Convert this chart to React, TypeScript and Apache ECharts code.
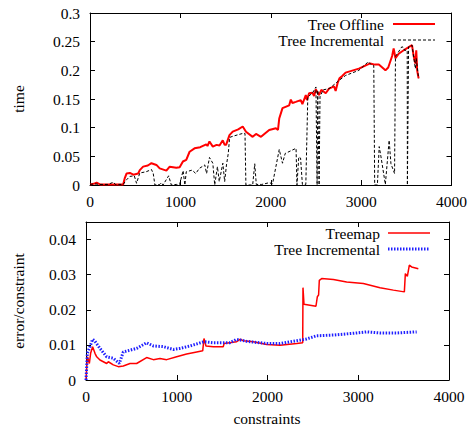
import React, { useEffect, useRef } from "react";
import * as echarts from "echarts";

// Top panel: time
const offlineX = [0, 40, 73, 110, 200, 367, 385, 404, 441, 480, 533, 551, 588, 640, 680, 735, 771, 845, 882, 955, 992, 1028, 1065, 1102, 1157, 1220, 1286, 1300, 1322, 1359, 1400, 1433, 1469, 1490, 1506, 1543, 1579, 1640, 1690, 1726, 1800, 1837, 1892, 1983, 2057, 2080, 2094, 2130, 2204, 2222, 2240, 2277, 2332, 2350, 2388, 2400, 2424, 2461, 2480, 2498, 2534, 2560, 2608, 2645, 2700, 2718, 2740, 2760, 2791, 2828, 2975, 3100, 3150, 3196, 3269, 3300, 3343, 3360, 3380, 3416, 3471, 3500, 3563, 3580, 3600, 3610, 3620, 3636];
const offlineY = [0.001, 0.002, 0.004, 0.001, 0.001, 0.001, 0.012, 0.02, 0.021, 0.018, 0.02, 0.026, 0.032, 0.034, 0.038, 0.035, 0.029, 0.025, 0.032, 0.03, 0.031, 0.041, 0.044, 0.058, 0.064, 0.066, 0.071, 0.068, 0.076, 0.067, 0.07, 0.069, 0.078, 0.07, 0.07, 0.087, 0.093, 0.097, 0.102, 0.093, 0.084, 0.089, 0.084, 0.096, 0.099, 0.096, 0.116, 0.134, 0.139, 0.149, 0.143, 0.145, 0.148, 0.141, 0.157, 0.148, 0.16, 0.161, 0.155, 0.167, 0.157, 0.166, 0.16, 0.168, 0.172, 0.164, 0.178, 0.186, 0.19, 0.196, 0.203, 0.212, 0.21, 0.21, 0.2, 0.205, 0.225, 0.238, 0.221, 0.229, 0.235, 0.238, 0.244, 0.226, 0.212, 0.235, 0.2, 0.186];

const incX = [0, 50, 100, 200, 260, 280, 367, 404, 441, 490, 515, 551, 620, 680, 700, 718, 771, 790, 808, 870, 900, 955, 992, 1030, 1050, 1065, 1130, 1170, 1210, 1270, 1290, 1322, 1359, 1380, 1410, 1430, 1470, 1490, 1510, 1530, 1545, 1580, 1690, 1715, 1725, 1800, 1823, 1840, 1900, 1983, 2020, 2057, 2094, 2130, 2160, 2280, 2290, 2310, 2330, 2350, 2388, 2410, 2461, 2500, 2513, 2520, 2535, 2545, 2580, 2645, 2700, 2760, 2828, 2975, 3080, 3110, 3140, 3150, 3180, 3200, 3220, 3268, 3310, 3330, 3370, 3380, 3450, 3470, 3480, 3510, 3512, 3525, 3563, 3600, 3610, 3636];
const incY = [0.001, 0.002, 0.001, 0.001, 0.005, 0.001, 0.001, 0.009, 0.015, 0.016, 0.003, 0.021, 0.023, 0.027, 0.02, 0, 0.001, 0.004, 0, 0.016, 0, 0.001, 0.001, 0.025, 0, 0.023, 0.026, 0.02, 0.029, 0.035, 0.02, 0.048, 0.038, 0, 0.032, 0.006, 0.038, 0.006, 0.035, 0.055, 0.083, 0.085, 0.09, 0.09, 0, 0, 0.037, 0.001, 0.001, 0.004, 0.002, 0.032, 0.062, 0.038, 0.055, 0.064, 0, 0.049, 0.047, 0.001, 0.001, 0.154, 0.16, 0.171, 0, 0.165, 0, 0.154, 0.166, 0.168, 0.175, 0.183, 0.191, 0.2, 0.215, 0.21, 0.208, 0, 0, 0.067, 0.049, 0.001, 0.078, 0.037, 0.02, 0.224, 0.241, 0.24, 0.235, 0.235, 0, 0.241, 0.244, 0.203, 0.221, 0.186];

// Bottom panel: error/constraint
const treemapX = [0, 15, 37, 51, 73, 99, 118, 154, 228, 246, 301, 356, 411, 485, 558, 668, 742, 815, 889, 999, 1109, 1220, 1286, 1300, 1322, 1403, 1513, 1521, 1660, 1697, 1734, 1844, 1991, 2138, 2322, 2388, 2391, 2402, 2534, 2549, 2563, 2571, 2597, 2726, 2872, 3056, 3240, 3387, 3508, 3519, 3541, 3563, 3588, 3662];
const treemapY = [0, 0.0066, 0.0047, 0.0076, 0.0095, 0.0076, 0.0066, 0.0057, 0.0047, 0.0052, 0.0043, 0.0038, 0.004, 0.0047, 0.0047, 0.0064, 0.0058, 0.0061, 0.0058, 0.0066, 0.0074, 0.008, 0.0083, 0.0118, 0.0097, 0.0095, 0.0095, 0.0104, 0.0109, 0.0116, 0.0112, 0.0109, 0.0101, 0.0099, 0.0104, 0.0106, 0.0263, 0.0216, 0.021, 0.0237, 0.0242, 0.0284, 0.0289, 0.0286, 0.0279, 0.0275, 0.0263, 0.0256, 0.0251, 0.0303, 0.0295, 0.0327, 0.0322, 0.0317];

const incErrX = [0, 15, 44, 73, 99, 154, 228, 301, 367, 411, 485, 558, 668, 742, 852, 962, 1036, 1146, 1300, 1403, 1587, 1660, 1770, 1991, 2138, 2322, 2432, 2542, 2726, 2946, 3093, 3240, 3424, 3644];
const incErrY = [0, 0.0076, 0.0095, 0.0116, 0.011, 0.009, 0.0066, 0.0062, 0.0047, 0.008, 0.0085, 0.009, 0.0106, 0.0097, 0.0095, 0.0087, 0.009, 0.0097, 0.0109, 0.0106, 0.0106, 0.0116, 0.011, 0.0104, 0.0104, 0.0112, 0.0117, 0.0126, 0.0128, 0.0133, 0.0137, 0.0134, 0.0134, 0.0137];

const xTickInterval = 1000;

const zip = (xs: number[], ys: number[]) => xs.map((x, i) => [x, ys[i]]);

const FONT = "Liberation Serif";
const FS = 15.5;

export default function App() {
  const ref = useRef<HTMLDivElement>(null);
  useEffect(() => {
    if (!ref.current) return;
    const chart = echarts.init(ref.current, null, { renderer: "svg" });
    const lbl = { fontFamily: FONT, fontSize: FS, color: "#000" };
    const font = `${FS}px "${FONT}"`;
    const axLine = { show: true, lineStyle: { color: "#000", width: 1 } };
    const tick = { show: true, inside: true, length: 5, lineStyle: { color: "#000" } };
    const mkX = (grid: number, position: string, labels: boolean) => ({
      type: "value",
      gridIndex: grid,
      position,
      min: 0,
      max: 4000,
      interval: xTickInterval,
      axisLine: { ...axLine, onZero: false },
      axisTick: tick,
      axisLabel: labels ? { ...lbl, margin: 8, formatter: (v: number) => String(v) } : { show: false },
      splitLine: { show: false },
    });
    const mkY = (grid: number, position: string, labels: boolean, max: number, interval: number) => ({
      type: "value",
      gridIndex: grid,
      position,
      min: 0,
      max,
      interval,
      axisLine: { ...axLine, onZero: false },
      axisTick: tick,
      axisLabel: labels
        ? { ...lbl, margin: 10, showMaxLabel: max !== 0.045, formatter: (v: number) => String(Math.round(v * 1000) / 1000) }
        : { show: false },
      splitLine: { show: false },
    });
    chart.setOption({
      animation: false,
      backgroundColor: "#fff",
      grid: [
        { left: 90, right: 17, top: 13, height: 172 },
        { left: 86, right: 21, top: 222, height: 158 },
      ],
      xAxis: [mkX(0, "bottom", true), mkX(1, "bottom", true), mkX(0, "top", false), mkX(1, "top", false)],
      yAxis: [
        mkY(0, "left", true, 0.3, 0.05),
        mkY(1, "left", true, 0.045, 0.01),
        mkY(0, "right", false, 0.3, 0.05),
        mkY(1, "right", false, 0.045, 0.01),
      ],
      series: [
        {
          type: "line",
          name: "Tree Incremental",
          xAxisIndex: 0,
          yAxisIndex: 0,
          data: zip(incX, incY),
          showSymbol: false,
          lineStyle: { color: "#000", width: 1, type: [3, 2] },
          z: 3,
        },
        {
          type: "line",
          name: "Tree Offline",
          xAxisIndex: 0,
          yAxisIndex: 0,
          data: zip(offlineX, offlineY),
          showSymbol: false,
          lineStyle: { color: "#ff0000", width: 2 },
          z: 2,
        },
        {
          type: "line",
          name: "Treemap",
          xAxisIndex: 1,
          yAxisIndex: 1,
          data: zip(treemapX, treemapY),
          showSymbol: false,
          lineStyle: { color: "#ff0000", width: 1.5 },
          z: 2,
        },
        {
          type: "line",
          name: "Tree Incremental (error)",
          xAxisIndex: 1,
          yAxisIndex: 1,
          data: zip(incErrX, incErrY),
          showSymbol: false,
          lineStyle: { color: "#2020ff", width: 3, type: [1.5, 1.5] },
          z: 3,
        },
      ],
      graphic: [
        { type: "text", x: 18, y: 99, rotation: Math.PI / 2, style: { text: "time", fill: "#000", font, textAlign: "center", textVerticalAlign: "middle" } },
        { type: "text", x: 18, y: 301, rotation: Math.PI / 2, style: { text: "error/constraint", fill: "#000", font, textAlign: "center", textVerticalAlign: "middle" } },
        { type: "text", x: 267, y: 418, style: { text: "constraints", fill: "#000", font, textAlign: "center", textVerticalAlign: "middle" } },
        { type: "text", x: 384, y: 24, style: { text: "Tree Offline", fill: "#000", font, textAlign: "right", textVerticalAlign: "middle" } },
        { type: "line", shape: { x1: 393, y1: 24, x2: 435, y2: 24 }, style: { stroke: "#ff0000", lineWidth: 2 } },
        { type: "text", x: 384, y: 40, style: { text: "Tree Incremental", fill: "#000", font, textAlign: "right", textVerticalAlign: "middle" } },
        { type: "line", shape: { x1: 393, y1: 40, x2: 435, y2: 40 }, style: { stroke: "#000", lineWidth: 1, lineDash: [3, 2] } },
        { type: "text", x: 380, y: 233, style: { text: "Treemap", fill: "#000", font, textAlign: "right", textVerticalAlign: "middle" } },
        { type: "line", shape: { x1: 388, y1: 233, x2: 430, y2: 233 }, style: { stroke: "#ff0000", lineWidth: 1.5 } },
        { type: "text", x: 380, y: 249, style: { text: "Tree Incremental", fill: "#000", font, textAlign: "right", textVerticalAlign: "middle" } },
        { type: "line", shape: { x1: 388, y1: 249, x2: 430, y2: 249 }, style: { stroke: "#2020ff", lineWidth: 3, lineDash: [1.5, 1.5] } },
      ],
    });
    return () => chart.dispose();
  }, []);
  return <div ref={ref} style={{ position: "fixed", left: 0, top: 0, width: 470, height: 430 }} />;
}
